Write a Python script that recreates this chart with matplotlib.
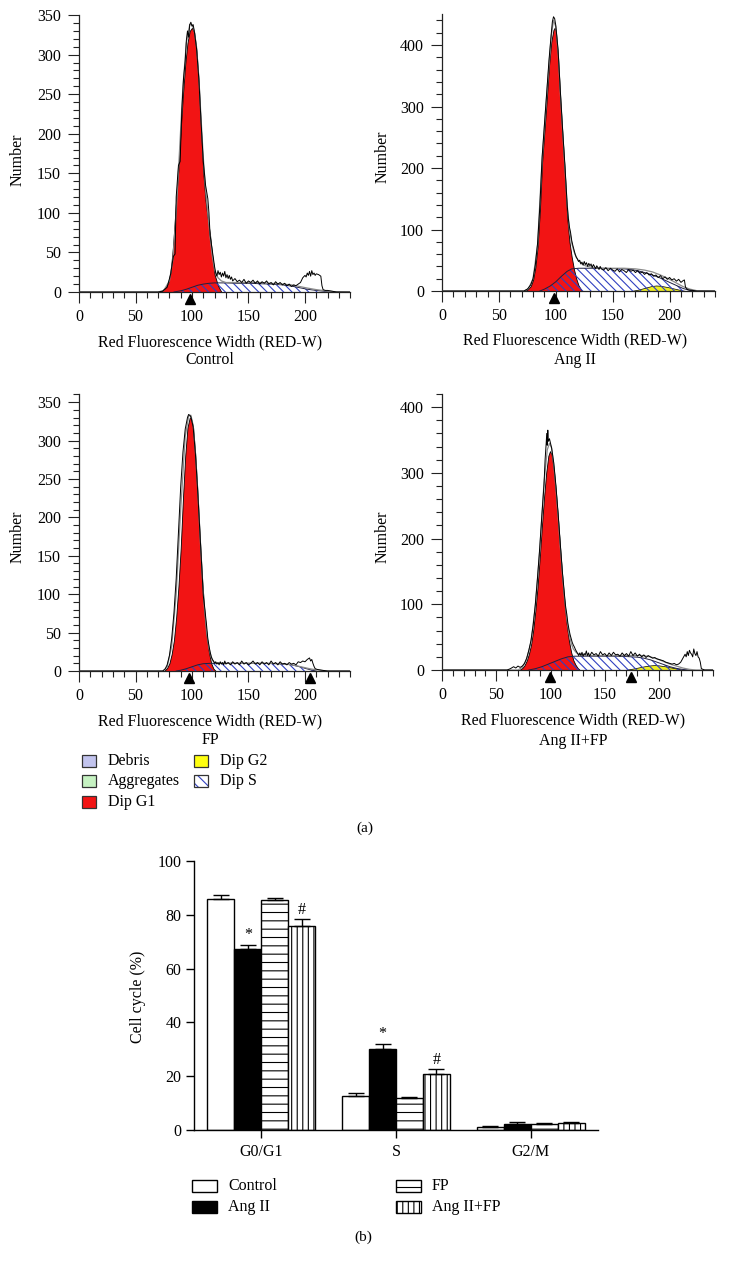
import numpy as np
import matplotlib
matplotlib.use('Agg')
import matplotlib.pyplot as plt
from matplotlib.patches import Rectangle
from matplotlib.ticker import MultipleLocator, FixedLocator

plt.rcParams['font.family'] = ['Liberation Serif', 'DejaVu Serif']
plt.rcParams['hatch.linewidth'] = 0.8

W, H = 730, 1270

# ---------------- panel (a) data: (x, count) ----------------
ctrl_env = [(0,0),(70,0),(74,1),(78,6),(81,22),(83.5,45),(85,48),(86,120),(88,160),(89.5,165),(91,230),
            (92.5,270),(94,292),(95,318),(96,330),(97,322),(98,338),(99,341),(100,336),(101,338),(102,330),
            (104,308),(106,270),(108,215),(110,165),(112,135),(114,118),(115,100),(116,72),(117,62),(118,52),
            (119,42),(120,32),(121,24),(122,20),(123,27),(124,22),(125,25),(126,19),(127,24),(128,20),(129,26),
            (130,18),(131,22),(132,17),(133,21),(134,16),(135,19),(136,14),(138,17),(140,13),(142,15),(144,12),
            (146,16),(148,11),(150,14),(152,12),(154,15),(156,11),(158,14),(160,10),(162,13),(164,11),(166,14),
            (168,10),(170,12),(172,9),(174,13),(176,10),(178,12),(180,9),(182,11),(184,8),(186,10),(188,7),
            (190,9),(192,8),(194,10),(196,12),(198,18),(200,21),(201,19),(202,24),(203,21),(204,26),(205,20),
            (206,27),(207,22),(208,24),(209,21),(210,23),(212,22),(214,20),(215,8),(216,3),(218,2),(220,2),
            (224,1),(228,0),(240,0)]
ctrl_fit = [(0,0),(70,0),(75,2),(80,14),(83,40),(86,100),(89,180),(92,260),(95,315),(98,338),(100,338),
            (102,330),(104,310),(106,272),(108,220),(110,170),(112,130),(114,100),(116,70),(118,45),(120,28),
            (123,18),(126,14),(130,12),(140,12),(150,12),(160,12),(170,11),(180,10),(188,9),(195,7),(202,5),
            (210,3),(218,1.5),(225,0.5),(240,0)]
ctrl_g1 = [(70,0),(73,1),(76,5),(79,12),(81,25),(83,55),(84,75),(86,118),(88,155),(90,205),(92,250),(94,288),
           (96,315),(98,330),(100,334),(102,328),(104,305),(106,265),(108,205),(110,150),(112,115),(114,92),
           (116,72),(118,45),(120,22),(123,8),(126,0)]
ctrl_s = [(84,0),(90,1.5),(95,3.5),(100,6),(105,8.5),(110,10),(115,11),(120,11.5),(130,11.5),(140,11),(150,11),
          (160,10.5),(170,10),(180,9),(188,7.5),(195,5.5),(202,3.5),(210,2),(218,0.8),(225,0)]
ctrl_g2 = []
ctrl_marks = [98]

angii_env = [(0,0),(72,0),(75,3),(78,10),(80,20),(82,42),(84,78),(86,138),(88,218),(90,270),(92,322),(94,375),
             (96,418),(97,438),(98,446),(99,443),(100,432),(102,392),(104,325),(106,262),(108,205),(110,140),
             (111,118),(112,104),(113,95),(114,82),(115,74),(116,67),(117,60),(118,55),(119,52),(120,48),
             (121,50),(122,44),(123,47),(124,42),(125,48),(126,43),(127,46),(128,40),(129,45),(130,41),(131,44),
             (132,38),(133,43),(134,40),(135,36),(136,41),(137,38),(138,35),(139,40),(140,36),(142,34),(144,38),
             (146,33),(148,37),(150,34),(152,32),(154,36),(156,31),(158,35),(160,33),(162,30),(164,35),(166,32),
             (168,34),(170,30),(172,33),(174,29),(176,31),(178,27),(180,30),(182,26),(184,28),(186,24),(188,26),
             (190,22),(192,25),(194,20),(196,23),(198,19),(200,22),(202,18),(204,20),(206,16),(208,19),(210,14),
             (212,17),(213,18),(214,6),(216,2),(220,1),(224,0),(240,0)]
angii_fit = [(0,0),(72,0),(76,4),(80,20),(84,75),(88,215),(92,320),(96,415),(98,440),(100,430),(102,390),
             (104,322),(106,260),(108,200),(110,140),(112,100),(114,78),(116,64),(118,55),(120,49),(123,44),
             (126,41),(130,39),(135,38),(140,37),(150,37),(160,37),(170,36),(178,34),(185,31),(192,26),(200,19),
             (206,13),(212,7),(218,3),(224,0.5),(240,0)]
angii_g1 = [(72,0),(75,2),(78,8),(80,18),(82,38),(84,72),(86,130),(88,210),(90,260),(92,310),(94,365),(96,405),
            (98,425),(99,428),(100,424),(102,380),(104,310),(106,250),(108,190),(110,120),(112,80),(114,55),
            (116,35),(118,20),(120,9),(123,0)]
angii_s = [(86,0),(90,3),(95,8),(100,15),(105,24),(110,32),(114,36),(120,37),(130,37),(140,37),(150,36.5),
           (160,36),(166,35),(172,33),(178,30),(185,26),(192,21),(200,14),(206,9),(212,4),(218,1),(222,0)]
angii_g2 = [(166,0),(172,2),(178,5),(184,8),(188,9),(192,8.5),(198,6.5),(204,4),(210,1.5),(214,0)]
angii_marks = [98.7]

fp_env = [(0,0),(74,0),(76,2),(78,8),(80,20),(82,42),(84,75),(86,120),(88,180),(90,240),(92,285),(94,315),
          (96,330),(97,334),(98,333),(99,331),(101,318),(103,283),(105,235),(107,180),(109,125),(110,98),
          (111,86),(112,72),(113,58),(114,42),(115,33),(116,25),(117,19),(118,15),(119,13),(120,10),(121,12),
          (122,9),(123,11),(124,8),(125,12),(126,9),(127,11),(128,8),(129,13),(130,9),(132,11),(134,8),(136,12),
          (138,9),(140,11),(142,8),(144,13),(146,9),(148,11),(150,8),(152,10),(154,13),(156,9),(158,11),(160,8),
          (162,12),(164,9),(166,11),(168,8),(170,13),(172,9),(174,11),(176,8),(178,12),(180,9),(182,10),(184,8),
          (186,11),(188,9),(190,10),(192,8),(194,12),(196,11),(198,13),(200,12),(202,15),(204,17),(205,13),
          (206,15),(207,10),(208,6),(209,3),(211,2),(215,1),(220,0),(240,0)]
fp_fit = [(0,0),(74,0),(78,5),(82,32),(86,100),(90,210),(94,305),(97,332),(99,333),(101,320),(103,285),
          (105,237),(107,180),(109,125),(111,82),(113,50),(115,30),(117,18),(119,12),(122,10),(130,10),(140,10),
          (150,10),(160,10),(170,10),(180,9.5),(186,8.5),(192,7),(198,5),(204,3),(210,1.5),(216,0.5),(222,0),
          (240,0)]
fp_g1 = [(76,1),(78,4),(80,10),(82,22),(84,40),(86,70),(88,110),(90,160),(92,225),(94,280),(96,317),(98,330),
         (99,330),(101,317),(103,280),(105,229),(107,172),(109,119),(111,76),(113,45),(115,24),(117,10),(119,3),
         (121,0)]
fp_s = [(86,0),(90,1),(95,3),(100,5.5),(105,8),(110,9.5),(116,10),(125,10),(140,10),(160,10),(175,9.5),
        (182,9),(188,8),(194,6),(200,3.5),(205,1.5),(210,0)]
fp_g2 = []
fp_marks = [97, 204]

aiifp_env = [(0,0),(60,0),(63,2),(66,5),(68,3),(70,6),(72,4),(74,6),(76,10),(78,18),(80,30),(82,45),(84,68),
             (86,100),(88,140),(90,185),(92,235),(94,282),(95,320),(96,345),(96.5,360),(97,342),(97.5,365),
             (98,348),(99,352),(100,345),(101,338),(103,315),(105,280),(107,238),(109,192),(111,148),(113,112),
             (114,95),(115,85),(116,71),(117,62),(118,54),(119,48),(120,42),(121,38),(122,35),(123,31),(124,28),
             (125,25),(126,22),(127,26),(128,22),(129,27),(130,21),(131,25),(132,23),(133,29),(134,22),(135,26),
             (136,21),(138,27),(140,23),(142,25),(144,21),(146,28),(148,23),(150,25),(152,21),(154,26),(156,22),
             (158,27),(160,23),(162,24),(164,21),(166,26),(168,22),(170,25),(172,21),(174,28),(176,22),(178,26),
             (180,21),(182,24),(184,20),(186,23),(188,19),(190,22),(192,20),(194,18),(196,19),(198,17),(200,16),
             (202,15),(204,14),(206,12),(208,11),(210,10),(212,9),(214,10),(216,8),(218,9),(220,12),(222,18),
             (224,24),(225,20),(226,28),(227,22),(228,30),(229,26),(230,24),(231,20),(232,32),(233,25),(234,22),
             (235,28),(236,20),(237,18),(238,12),(239,2),(242,0),(250,0)]
aiifp_fit = [(0,0),(70,0),(74,4),(78,16),(82,42),(86,98),(90,180),(94,285),(97,335),(99,345),(101,338),
             (103,312),(105,276),(107,233),(109,188),(111,145),(113,108),(115,78),(117,56),(119,41),(121,32),
             (124,26),(128,23),(135,22),(145,22),(160,22),(175,22),(185,22),(192,20),(198,17),(204,13),(210,9),
             (216,6),(222,3),(228,1),(234,0),(250,0)]
aiifp_g1 = [(72,1),(74,3),(76,7),(78,14),(80,24),(82,38),(84,60),(86,90),(88,126),(90,170),(92,218),(94,262),
            (96,300),(98,326),(99.5,333),(101,328),(103,305),(105,270),(107,228),(109,182),(111,138),(113,100),
            (115,68),(117,44),(119,27),(121,15),(123,8),(125,3),(127,0)]
aiifp_s = [(80,0),(86,2),(92,5),(98,9),(104,13),(110,17),(116,20),(122,21),(130,21),(140,21),(150,21),(160,21),
           (170,20.5),(180,19.5),(186,18),(192,15.5),(198,12),(204,8.5),(210,5),(216,2.5),(222,0.8),(228,0)]
aiifp_g2 = [(168,0),(174,1.5),(180,3.5),(186,5.5),(192,7),(196,7.5),(200,7),(206,5.5),(212,3.5),(218,1.5),(222,0)]
aiifp_marks = [99.5, 174.6]

hist_titles = ['Control', 'Ang II', 'FP', 'Ang II+FP']

# ---------------- panel (b) data ----------------
phases = ['G0/G1', 'S', 'G2/M']
groups = ['Control', 'Ang II', 'FP', 'Ang II+FP']
control = [86.0, 12.6, 1.2]
control_err = [1.2, 1.3, 0.4]
angii = [67.4, 30.2, 2.3]
angii_err = [1.4, 1.9, 0.6]
fp = [85.6, 11.9, 2.2]
fp_err = [0.7, 0.5, 0.4]
aiifp = [75.7, 20.8, 2.5]
aiifp_err = [2.6, 1.8, 0.5]
signif = [('Ang II', 0, '*'), ('Ang II+FP', 0, '#'), ('Ang II', 1, '*'), ('Ang II+FP', 1, '#')]

RED = '#f21414'
YELLOW = '#eeee22'
BLUE = '#3040c0'
S_HATCH = '\\' * 4


def xy(pairs):
    a = np.array(pairs, dtype=float)
    return a[:, 0], a[:, 1]


def fpos(x, y):
    return x / W, 1 - y / H


def add_ax(left, top, right, bottom):
    return fig.add_axes([left / W, 1 - bottom / H, (right - left) / W, (bottom - top) / H])


def ftext(x, y, s, **kw):
    fx, fy = fpos(x, y)
    fig.text(fx, fy, s, ha=kw.pop('ha', 'center'), va=kw.pop('va', 'center'), **kw)


def frect(x0, y0, w, h, **kw):
    fx, fy = fpos(x0, y0 + h)
    fig.add_artist(Rectangle((fx, fy), w / W, h / H, transform=fig.transFigure, **kw))


def draw_hist(box, xmax, ymax, ymaj, ymin, env, fit, g1, s, g2, marks):
    ax = add_ax(*box)
    x, y = xy(g1)
    ax.fill_between(x, 0, y, facecolor=RED, edgecolor='k', lw=0.6, zorder=2)
    if g2:
        x, y = xy(g2)
        ax.fill_between(x, 0, y, facecolor=YELLOW, edgecolor='k', lw=0.5, zorder=2.2)
    x, y = xy(s)
    ax.fill_between(x, 0, y, facecolor='none', edgecolor=BLUE, hatch=S_HATCH, lw=0, zorder=3)
    ax.plot(x, y, color='#202040', lw=0.7, zorder=3.5)
    x, y = xy(fit)
    ax.plot(x, y, color='#8a8a8a', lw=0.9, zorder=4)
    x, y = xy(env)
    ax.plot(x, y, color='k', lw=0.7, zorder=4.5)
    ax.plot(marks, [-0.024] * len(marks), ls='none', marker='^', ms=7, color='k',
            transform=ax.get_xaxis_transform(), clip_on=False, zorder=6)
    ax.set_xlim(0, xmax)
    ax.set_ylim(0, ymax)
    for sp in ['top', 'right']:
        ax.spines[sp].set_visible(False)
    for sp in ['left', 'bottom']:
        ax.spines[sp].set_linewidth(0.9)
        ax.spines[sp].set_color('#222222')
    ax.xaxis.set_major_locator(FixedLocator([0, 50, 100, 150, 200]))
    ax.xaxis.set_minor_locator(MultipleLocator(10))
    ax.yaxis.set_major_locator(MultipleLocator(ymaj))
    ax.yaxis.set_minor_locator(MultipleLocator(ymin))
    ax.tick_params(which='major', direction='out', length=8, width=0.8, labelsize=11.5, color='#222222')
    ax.tick_params(which='minor', direction='out', length=4, width=0.8, color='#222222')
    ax.tick_params(axis='x', which='major', pad=4)
    ax.tick_params(axis='y', which='major', pad=5)
    return ax


fig = plt.figure(figsize=(W / 100, H / 100), dpi=100)

draw_hist((79, 15.1, 350.2, 292), 240, 350, 50, 10, ctrl_env, ctrl_fit, ctrl_g1, ctrl_s, ctrl_g2, ctrl_marks)
draw_hist((442, 14.3, 715.1, 291), 240, 450, 100, 20, angii_env, angii_fit, angii_g1, angii_s, angii_g2, angii_marks)
draw_hist((79, 394.5, 350.2, 671), 240, 360, 50, 10, fp_env, fp_fit, fp_g1, fp_s, fp_g2, fp_marks)
draw_hist((442, 394, 713.3, 670), 250, 420, 100, 20, aiifp_env, aiifp_fit, aiifp_g1, aiifp_s, aiifp_g2, aiifp_marks)

lab_pos = [(18, 160, 210, 342, 360), (383, 157, 575, 340, 360),
           (18, 537, 210, 721, 740), (383, 537, 573, 720, 741)]
for (nx, ny, cx, cy, ty), title in zip(lab_pos, hist_titles):
    ftext(nx, ny, 'Number', rotation=90, fontsize=11.5)
    ftext(cx, cy, 'Red Fluorescence Width (RED-W)', fontsize=11.5)
    ftext(cx, ty, title, fontsize=11.5)

# legend of panel (a)
leg_a = [('Debris', 82, 761, '#c2c4ee', None), ('Aggregates', 82, 781, '#c6f2c2', None),
         ('Dip G1', 82, 802, RED, None), ('Dip G2', 194, 761, '#ffff10', None),
         ('Dip S', 194, 781, 'white', '\\' * 3)]
for name, lx, ly, col, hat in leg_a:
    if hat:
        frect(lx, ly - 6, 14, 12, facecolor=col, edgecolor=BLUE, hatch=hat, lw=0)
        frect(lx, ly - 6, 14, 12, facecolor='none', edgecolor='#333333', lw=0.9)
    else:
        frect(lx, ly - 6, 14, 12, facecolor=col, edgecolor='#333333', lw=0.9)
    ftext(lx + 26, ly, name, ha='left', fontsize=11.5)

ftext(365, 828, '(a)', fontsize=11)

# ---------------- panel (b) ----------------
ax = add_ax(194, 861, 598, 1130)
xc = np.arange(len(phases))
styles = {'Control': dict(color='white', hatch=None),
          'Ang II': dict(color='black', hatch=None),
          'FP': dict(color='white', hatch='--'),
          'Ang II+FP': dict(color='white', hatch='|||')}
vals = {'Control': (control, control_err), 'Ang II': (angii, angii_err),
        'FP': (fp, fp_err), 'Ang II+FP': (aiifp, aiifp_err)}
offsets = {'Control': -0.3, 'Ang II': -0.1, 'FP': 0.1, 'Ang II+FP': 0.3}
for g in groups:
    v, e = vals[g]
    ax.bar(xc + offsets[g], v, width=0.2, color=styles[g]['color'], hatch=styles[g]['hatch'],
           edgecolor='k', lw=1, zorder=2)
    ax.errorbar(xc + offsets[g], v, yerr=[np.zeros(len(v)), e], fmt='none', ecolor='k',
                elinewidth=1, capsize=6, capthick=1, zorder=3)
for g, i, sym in signif:
    v, e = vals[g]
    ax.text(i + offsets[g], v[i] + e[i] + 0.6, sym, ha='center', va='bottom', fontsize=11.5)

ax.set_xlim(-0.5, 2.5)
ax.set_ylim(0, 100)
ax.set_xticks(xc)
ax.set_xticklabels(phases)
ax.set_yticks(np.arange(0, 101, 20))
for sp in ['top', 'right']:
    ax.spines[sp].set_visible(False)
ax.spines['left'].set_linewidth(1)
ax.spines['bottom'].set_linewidth(1)
ax.tick_params(direction='out', length=6, width=1, labelsize=11.5)
ax.tick_params(axis='x', pad=4)
ax.tick_params(axis='y', pad=3)
ftext(138, 997, 'Cell cycle (%)', rotation=90, fontsize=11.5)

leg_b = [('Control', 192, 1186), ('Ang II', 192, 1207), ('FP', 396, 1186), ('Ang II+FP', 396, 1207)]
for g, lx, ly in leg_b:
    frect(lx, ly - 6, 25, 12, facecolor=styles[g]['color'], hatch=styles[g]['hatch'], edgecolor='k', lw=1)
    ftext(lx + 36, ly, g, ha='left', fontsize=11.5)

ftext(363, 1237, '(b)', fontsize=11)

fig.savefig('out.png', dpi=100)
